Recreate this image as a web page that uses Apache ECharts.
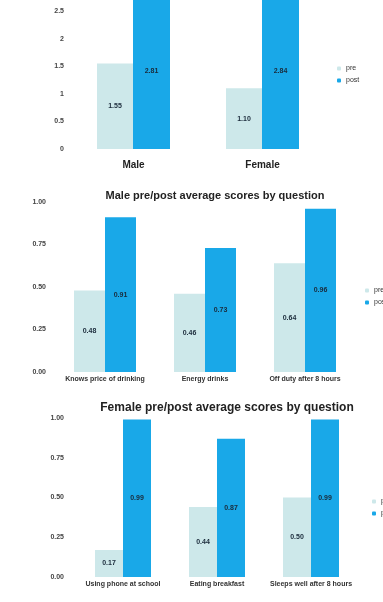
<!DOCTYPE html>
<html><head><meta charset="utf-8">
<script src="https://cdn.jsdelivr.net/npm/echarts@6/dist/echarts.min.js"></script>
<style>html,body{margin:0;padding:0;background:#fff}#c{width:383px;height:602px}</style>
</head><body><div id="c"></div>
<script>
const cats1 = ['Male', 'Female'];
const pre1 = [1.55, 1.10];
const post1 = [2.81, 2.84];
const ticks1 = ['0', '0.5', '1', '1.5', '2', '2.5'];

const title2 = 'Male pre/post average scores by question';
const cats2 = ['Knows price of drinking', 'Energy drinks', 'Off duty after 8 hours'];
const pre2 = [0.48, 0.46, 0.64];
const post2 = [0.91, 0.73, 0.96];

const title3 = 'Female pre/post average scores by question';
const cats3 = ['Using phone at school', 'Eating breakfast', 'Sleeps well after 8 hours'];
const pre3 = [0.17, 0.44, 0.50];
const post3 = [0.99, 0.87, 0.99];

const seriesNames = ['pre', 'post'];

const PRE = '#cde8ea', POST = '#19a8e8';
const chart = echarts.init(document.getElementById('c'), null, {renderer: 'canvas'});
const fmt = p => p.value.toFixed(2);
const lbl = {show: true, position: 'inside', color: '#1a2a3a', fontSize: 7, fontWeight: 'bold', formatter: fmt};
function bar(name, data, idx, color, w) {
  return {type: 'bar', name, data, xAxisIndex: idx, yAxisIndex: idx, barWidth: w, barGap: '0%',
    itemStyle: {color}, label: lbl, silent: true, animation: false, clip: false};
}
const yBase = {type: 'value', min: 0, splitLine: {show: false}, axisLine: {show: false},
  axisTick: {show: false}, axisLabel: {fontSize: 7, color: '#444', fontWeight: 'bold'}};
const xBase = {type: 'category', axisLine: {show: false}, axisTick: {show: false}};
chart.setOption({
  animation: false,
  title: [
    {text: title2, left: 210, top: 185, textAlign: 'center', textStyle: {fontSize: 11, fontWeight: 'bold', color: '#222'}},
    {text: title3, left: 222, top: 397, textAlign: 'center', textStyle: {fontSize: 12, fontWeight: 'bold', color: '#222'}}
  ],
  legend: [
    {data: seriesNames, orient: 'vertical', left: 332, top: 60, itemWidth: 4, itemHeight: 4, itemGap: 5, textStyle: {fontSize: 7, color: '#333'}},
    {data: seriesNames, orient: 'vertical', left: 360, top: 282, itemWidth: 4, itemHeight: 4, itemGap: 5, textStyle: {fontSize: 7, color: '#333'}},
    {data: seriesNames, orient: 'vertical', left: 367, top: 493, itemWidth: 4, itemHeight: 4, itemGap: 5, textStyle: {fontSize: 7, color: '#333'}}
  ],
  grid: [
    {left: 69, right: 56, top: 0, height: 149},
    {left: 55, right: 28, top: 202, height: 170},
    {left: 76, right: 25, top: 418, height: 159}
  ],
  xAxis: [
    Object.assign({}, xBase, {gridIndex: 0, data: cats1, axisLabel: {fontSize: 10, fontWeight: 'bold', color: '#222', margin: 11, interval: 0}}),
    Object.assign({}, xBase, {gridIndex: 1, data: cats2, axisLabel: {fontSize: 7, fontWeight: 'bold', color: '#333', margin: 4, interval: 0}}),
    Object.assign({}, xBase, {gridIndex: 2, data: cats3, axisLabel: {fontSize: 7, fontWeight: 'bold', color: '#333', margin: 4, interval: 0}})
  ],
  yAxis: [
    Object.assign({}, yBase, {gridIndex: 0, max: 2.7, interval: 0.5, axisLabel: Object.assign({}, yBase.axisLabel, {margin: 5, showMaxLabel: false, formatter: (v, i) => ticks1[i] || ''})}),
    Object.assign({}, yBase, {gridIndex: 1, max: 1, interval: 0.25, axisLabel: Object.assign({}, yBase.axisLabel, {margin: 9, formatter: v => v.toFixed(2)})}),
    Object.assign({}, yBase, {gridIndex: 2, max: 1, interval: 0.25, axisLabel: Object.assign({}, yBase.axisLabel, {margin: 12, formatter: v => v.toFixed(2)})})
  ],
  series: [
    bar('pre', pre1, 0, PRE, 36), bar('post', post1, 0, POST, 37),
    bar('pre', pre2, 1, PRE, 31), bar('post', post2, 1, POST, 31),
    bar('pre', pre3, 2, PRE, 28), bar('post', post3, 2, POST, 28)
  ]
});
</script></body></html>
